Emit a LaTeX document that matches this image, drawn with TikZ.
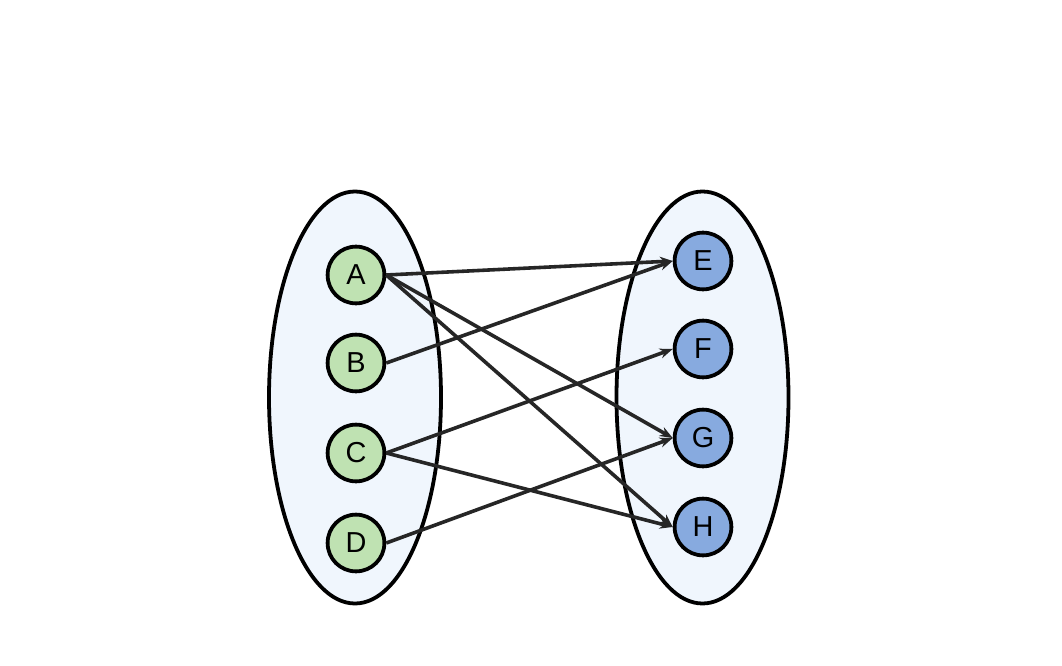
\documentclass[tikz,border=0pt]{standalone}
\usepackage{fontspec}
\setmainfont{Liberation Sans}
\usetikzlibrary{arrows.meta}
\definecolor{setfill}{HTML}{F0F6FD}
\definecolor{gfill}{HTML}{BFE2B2}
\definecolor{bfill}{HTML}{87AADF}
\definecolor{edgecol}{HTML}{262626}
\tikzset{
  setbox/.style={draw=black, line width=3.8pt, fill=setfill},
  lnode/.style={circle, draw=black, line width=3.8pt, fill=gfill, minimum size=57pt, inner sep=0pt, font=\fontsize{29}{33}\selectfont},
  rnode/.style={circle, draw=black, line width=3.8pt, fill=bfill, minimum size=57pt, inner sep=0pt, font=\fontsize{29}{33}\selectfont},
  edge/.style={draw=edgecol, line width=3.6pt, -{Stealth[length=13pt,width=10pt]}}
}
\begin{document}
\begin{tikzpicture}[x=1bp,y=-1bp]
\useasboundingbox (0,0) rectangle (1062,666);
\fill[white] (0,0) rectangle (1062,666);
\draw[setbox] (355,397.5) ellipse [x radius=86, y radius=206];
\draw[setbox] (702.5,397.5) ellipse [x radius=86, y radius=206];
\node[lnode] (A) at (356,275) {A};
\node[lnode] (B) at (356,363) {B};
\node[lnode] (C) at (356,453) {C};
\node[lnode] (D) at (356,543) {D};
\node[rnode] (E) at (703,261) {E};
\node[rnode] (F) at (703,349) {F};
\node[rnode] (G) at (703,438) {G};
\node[rnode] (H) at (703,527) {H};
\draw[edge] (A.east) -- (E.west);
\draw[edge] (A.east) -- (G.west);
\draw[edge] (A.east) -- (H.west);
\draw[edge] (B.east) -- (E.west);
\draw[edge] (C.east) -- (F.west);
\draw[edge] (C.east) -- (H.west);
\draw[edge] (D.east) -- (G.west);
\end{tikzpicture}
\end{document}
